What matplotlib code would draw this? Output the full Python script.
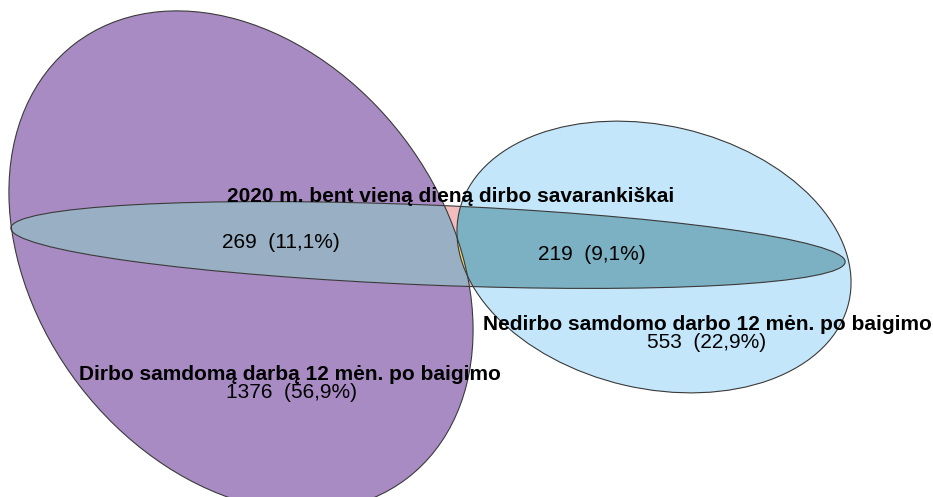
import numpy as np
import matplotlib
matplotlib.use("Agg")
import matplotlib.pyplot as plt
from matplotlib.patches import Ellipse, Polygon

# ---- data ----
set_names = [
    "Dirbo samdomą darbą 12 mėn. po baigimo",
    "Nedirbo samdomo darbo 12 mėn. po baigimo",
    "2020 m. bent vieną dieną dirbo savarankiškai",
]
region_names = ["A only", "B only", "A & C", "B & C"]
region_counts = [1376, 553, 269, 219]

total = sum(region_counts)
region_labels = [f"{c}  ({100 * c / total:.1f}%)".replace(".", ",") for c in region_counts]

# ---- layout (pixel-like coordinates, y down) ----
ell_A = dict(xy=(241, 261), width=547, height=408, angle=52.6)
ell_B = dict(xy=(654, 257), width=400, height=263, angle=13.1)
ell_C = dict(xy=(428, 245), width=835, height=80, angle=2.33)

col_A = "#A98BC4"
col_B = "#C4E6FA"
col_C = "#F4BDBD"
col_AC = "#99AFC3"
col_BC = "#7BB1C2"
col_ABC = "#F2D86A"
edge_col = "#3a3a3a"

set_label_pos = [(290, 375), (707, 324), (451, 196)]
region_label_pos = [(291, 393), (707, 343), (281, 242), (592, 255)]

fig = plt.figure(figsize=(9.33, 4.97), dpi=100)
ax = fig.add_axes([0, 0, 1, 1])
ax.set_xlim(0, 933)
ax.set_ylim(497, 0)
ax.axis("off")


def ell_poly(p, n=720):
    cx, cy = p["xy"]
    a, b = p["width"] / 2, p["height"] / 2
    t = np.radians(p["angle"])
    s = np.linspace(0, 2 * np.pi, n, endpoint=False)
    x = a * np.cos(s)
    y = b * np.sin(s)
    return np.column_stack([cx + x * np.cos(t) - y * np.sin(t),
                            cy + x * np.sin(t) + y * np.cos(t)])


def clip_convex(subject, clip):
    def inside(p, a, b):
        return (b[0] - a[0]) * (p[1] - a[1]) - (b[1] - a[1]) * (p[0] - a[0]) >= 0

    def inter(p1, p2, a, b):
        d1 = p2 - p1
        d2 = b - a
        den = d1[0] * d2[1] - d1[1] * d2[0]
        t = ((a[0] - p1[0]) * d2[1] - (a[1] - p1[1]) * d2[0]) / den
        return p1 + t * d1

    out = list(subject)
    for i in range(len(clip)):
        a, b = clip[i], clip[(i + 1) % len(clip)]
        inp = out
        out = []
        if not inp:
            break
        s = inp[-1]
        for e in inp:
            if inside(e, a, b):
                if not inside(s, a, b):
                    out.append(inter(s, e, a, b))
                out.append(e)
            elif inside(s, a, b):
                out.append(inter(s, e, a, b))
            s = e
    return np.array(out)


pA = Ellipse(**ell_A, facecolor=col_A, edgecolor="none")
pB = Ellipse(**ell_B, facecolor=col_B, edgecolor="none")
pC = Ellipse(**ell_C, facecolor=col_C, edgecolor="none")
for p in (pA, pB, pC):
    ax.add_patch(p)

pAC = Ellipse(**ell_C, facecolor=col_AC, edgecolor="none")
ax.add_patch(pAC)
pAC.set_clip_path(pA)
pBC = Ellipse(**ell_C, facecolor=col_BC, edgecolor="none")
ax.add_patch(pBC)
pBC.set_clip_path(pB)

polyAB = clip_convex(ell_poly(ell_A), ell_poly(ell_B))
if len(polyAB) > 2:
    pABC = Polygon(polyAB, closed=True, facecolor=col_ABC, edgecolor="none")
    ax.add_patch(pABC)
    pABC.set_clip_path(pC)

for e in (ell_A, ell_B, ell_C):
    ax.add_patch(Ellipse(**e, facecolor="none", edgecolor=edge_col, linewidth=0.8))

font = ["Liberation Sans", "DejaVu Sans"]
for name, (x, y) in zip(set_names, set_label_pos):
    ax.text(x, y, name, ha="center", va="center", fontsize=15,
            fontweight="bold", family=font, color="black")
for lab, (x, y) in zip(region_labels, region_label_pos):
    ax.text(x, y, lab, ha="center", va="center", fontsize=15,
            family=font, color="black")

fig.savefig("out.png", dpi=100)
